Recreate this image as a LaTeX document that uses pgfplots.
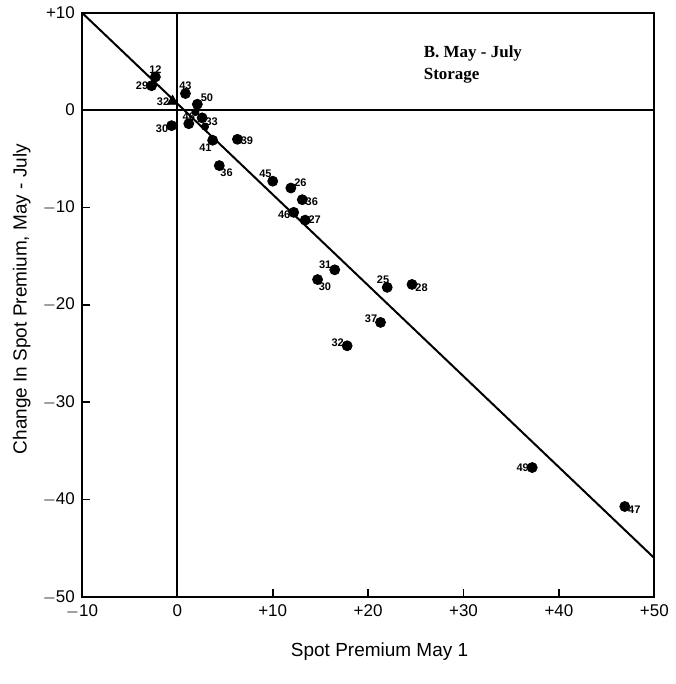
\documentclass[border=0pt]{standalone}
\usepackage{fontspec}
\setmainfont{Liberation Sans}
\newfontfamily\titlefont{Liberation Serif}
\usepackage{pgfplots}
\pgfplotsset{compat=1.18}

\begin{document}
\begin{tikzpicture}
\begin{axis}[
  scale only axis,
  width=286.5pt, height=292.5pt,
  xmin=-10, xmax=50, ymin=-50, ymax=10,
  xtick={-10,0,10,20,30,40,50},
  xticklabels={$-$10,0,+10,+20,+30,+40,+50},
  ytick={-50,-40,-30,-20,-10,0,10},
  yticklabels={$-$50,$-$40,$-$30,$-$20,$-$10,0,+10},
  xtick pos=left, ytick pos=left,
  tick align=inside,
  major tick length=4pt,
  axis line style={line width=0.9pt},
  tick style={line width=0.8pt, black},
  /pgf/number format/assume math mode=true,
  tick label style={font=\fontsize{8.5}{9}\selectfont},
  xlabel={Spot Premium May 1},
  ylabel={Change In Spot Premium, May - July},
  label style={font=\fontsize{9.5}{11}\selectfont},
  xlabel style={at={(axis description cs:0.52,-0.094)}, anchor=center},
  ylabel style={at={(axis description cs:-0.105,0.51)}, anchor=center},
  clip=false,
]
% reference lines through the origin
\addplot[black, line width=0.9pt] coordinates {(-10,0) (50,0)};
\addplot[black, line width=0.9pt] coordinates {(0,-50) (0,10)};
% fitted line
\addplot[black, line width=1pt] coordinates {(-10,10) (50,-46)};
% yearly observations, labelled by year
\addplot[only marks, mark=*, mark size=2.5pt, black,
  point meta=explicit symbolic,
  visualization depends on={value \thisrow{ang} \as \lang},
  nodes near coords,
  nodes near coords style={font=\fontsize{5.5}{6}\selectfont\bfseries, anchor=\lang, inner sep=1.5pt},
] table[x=x, y=y, meta=lab] {
x     y      lab  ang
-2.3  3.4    12   270
-2.7  2.5    29   0
0.85  1.7    43   270
2.1   0.6    50   215
2.6   -0.8   33   160
1.2   -1.4   46   270
-0.6  -1.6   30   20
3.7   -3.1   41   45
6.3   -3.0   39   170
4.4   -5.7   36   135
10.0  -7.3   45   315
11.9  -8.0   26   210
13.1  -9.2   36   170
12.2  -10.5  46   15
13.4  -11.3  27   180
16.5  -16.4  31   330
14.7  -17.4  30   135
22.0  -18.2  25   300
24.6  -17.9  28   160
21.3  -21.8  37   340
17.8  -24.2  32   340
37.2  -36.7  49   0
46.9  -40.7  47   160
};
% unlabelled points in the cluster near the origin
\addplot[only marks, mark=*, mark size=1.8pt, black] coordinates {(1.9,-0.2) (2.9,-1.7)};
% storage year marked with a triangle
\addplot[only marks, mark=triangle*, mark size=3pt, black,
  point meta=explicit symbolic, nodes near coords,
  nodes near coords style={font=\fontsize{5.5}{6}\selectfont\bfseries, anchor=0, inner sep=1.5pt},
] coordinates {(-0.5,0.9) [32]};
\node[anchor=north west, align=left, font=\titlefont\bfseries\fontsize{8.5}{11}\selectfont]
  at (axis description cs:0.585,0.955) {B.\ May - July\\Storage};
\end{axis}
\path ([xshift=-41pt,yshift=-43.5pt]current axis.south west) rectangle ([xshift=8pt,yshift=6pt]current axis.north east);
\end{tikzpicture}
\end{document}
